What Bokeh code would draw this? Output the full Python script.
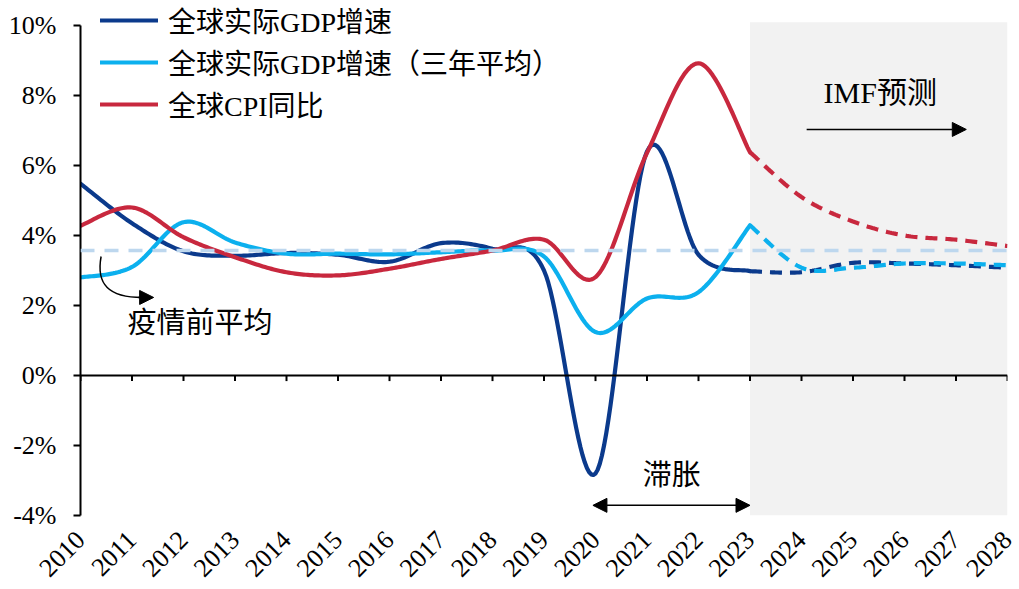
import math
from bokeh.plotting import figure
from bokeh.models import (Range1d, FixedTicker, PrintfTickFormatter, Span, BoxAnnotation,
                          Arrow, NormalHead, Legend, LegendItem)
from bokeh.core.properties import value
from bokeh.embed import file_html
from bokeh.resources import INLINE

# ---------------- data ----------------
years_hist = [2010, 2011, 2012, 2013, 2014, 2015, 2016, 2017, 2018, 2019, 2020, 2021, 2022, 2023]
years_fcst = [2023, 2024, 2025, 2026, 2027, 2028]
year_ticks = list(range(2010, 2029))

gdp_hist = [5.48, 4.35, 3.55, 3.42, 3.50, 3.45, 3.25, 3.78, 3.62, 3.00, -2.80, 6.40, 3.45, 2.98]
gdp_fcst = [2.98, 2.95, 3.22, 3.20, 3.15, 3.08]

gdp3_hist = [2.80, 3.10, 4.38, 3.80, 3.48, 3.48, 3.46, 3.52, 3.57, 3.40, 1.24, 2.20, 2.38, 4.29]
gdp3_fcst = [4.29, 3.08, 3.08, 3.20, 3.20, 3.15]

cpi_hist = [4.28, 4.80, 3.95, 3.38, 2.95, 2.86, 3.05, 3.33, 3.57, 3.88, 2.81, 6.36, 8.92, 6.38]
cpi_fcst = [6.38, 5.10, 4.40, 4.00, 3.88, 3.70]

pre_covid_avg = 3.57

names = ["全球实际GDP增速", "全球实际GDP增速（三年平均）", "全球CPI同比"]
y_ticks = [-4, -2, 0, 2, 4, 6, 8, 10]

# ---------------- style ----------------
C_DARK = "#0b3a8c"
C_LIGHT = "#0cb0ee"
C_RED = "#c8283e"
C_AVG = "#bdd7ee"
FONT = "'Liberation Serif', 'Noto Sans CJK SC'"


def smooth(xs, ys, n=24):
    """Excel-like smoothed line (cubic Bezier through each point)."""
    out_x, out_y = [], []
    m = len(xs)
    for i in range(m - 1):
        i0, i3 = max(i - 1, 0), min(i + 2, m - 1)
        p1 = (xs[i], ys[i]); p2 = (xs[i + 1], ys[i + 1])
        p0 = (xs[i0], ys[i0]); p3 = (xs[i3], ys[i3])
        c1 = (p1[0] + (p2[0] - p0[0]) / 6, p1[1] + (p2[1] - p0[1]) / 6)
        c2 = (p2[0] - (p3[0] - p1[0]) / 6, p2[1] - (p3[1] - p1[1]) / 6)
        for k in range(n + (1 if i == m - 2 else 0)):
            t = k / n
            a, b, c, d = (1 - t) ** 3, 3 * (1 - t) ** 2 * t, 3 * (1 - t) * t ** 2, t ** 3
            out_x.append(a * p1[0] + b * c1[0] + c * c2[0] + d * p2[0])
            out_y.append(a * p1[1] + b * c1[1] + c * c2[1] + d * p2[1])
    return out_x, out_y


p = figure(width=1019, height=589, output_backend="svg", toolbar_location=None,
           x_range=Range1d(2010, 2028), y_range=Range1d(-4, 10.714),
           min_border_left=80, min_border_right=12, min_border_top=0, min_border_bottom=74)
p.outline_line_color = None
p.xgrid.visible = False
p.ygrid.visible = False
p.background_fill_color = "white"
p.border_fill_color = "white"

# forecast shading
p.add_layout(BoxAnnotation(left=2023, bottom=-4, top=10.09, fill_color="#f2f2f2",
                           fill_alpha=1, line_color=None, level="underlay"))

# zero line with ticks
p.add_layout(Span(location=0, dimension="width", line_color="black", line_width=2))
p.segment(x0=year_ticks, y0=[0] * len(year_ticks), x1=year_ticks, y1=[-0.16] * len(year_ticks),
          line_color="black", line_width=2)

# series
renderers = []
for hist, fcst, col in [(gdp_hist, gdp_fcst, C_DARK), (gdp3_hist, gdp3_fcst, C_LIGHT), (cpi_hist, cpi_fcst, C_RED)]:
    hx, hy = smooth(years_hist, hist)
    r = p.line(hx, hy, line_color=col, line_width=4.2, line_cap="round", line_join="round")
    fx, fy = smooth(years_fcst, fcst)
    p.line(fx, fy, line_color=col, line_width=4.2, line_dash="12 8")
    renderers.append(r)

# pre-covid average
p.add_layout(Span(location=pre_covid_avg, dimension="width", line_color=C_AVG,
                  line_width=3.5, line_dash="14 10"))

# axes
yax = p.yaxis[0]
yax.ticker = FixedTicker(ticks=y_ticks)
yax.formatter = PrintfTickFormatter(format="%d%%")
yax.bounds = (-4, 10)
yax.axis_line_width = 2
yax.axis_line_color = "black"
yax.major_tick_line_width = 2
yax.major_tick_in = 0
yax.major_tick_out = 7
yax.minor_tick_line_color = None
yax.major_label_text_font = FONT
yax.major_label_text_font_size = "26px"
yax.major_label_text_color = "black"
yax.major_label_standoff = 17

xax = p.xaxis[0]
xax.ticker = FixedTicker(ticks=year_ticks)
xax.formatter = PrintfTickFormatter(format="%d")
xax.axis_line_color = None
xax.major_tick_line_color = None
xax.minor_tick_line_color = None
xax.major_label_orientation = math.pi / 4
xax.major_label_text_font = FONT
xax.major_label_text_font_size = "26px"
xax.major_label_text_color = "black"
xax.major_label_standoff = 14

# annotations
p.text(x=[2012.32], y=[1.50], text=["疫情前平均"], text_font=value(FONT), text_font_size="29px",
       text_align="center", text_baseline="middle", text_color="black")
p.bezier(x0=[2010.40], y0=[3.40], x1=[2011.20], y1=[2.23], cx0=[2010.30], cy0=[2.6],
         cx1=[2010.55], cy1=[2.23], line_color="black", line_width=1.5)
p.add_layout(Arrow(end=NormalHead(size=14, fill_color="black", line_color="black"),
                   x_start=2011.12, y_start=2.23, x_end=2011.42, y_end=2.23,
                   line_color="black", line_width=1.5))

p.text(x=[2021.48], y=[-2.83], text=["滞胀"], text_font=value(FONT), text_font_size="29px",
       text_align="center", text_baseline="middle", text_color="black")
p.add_layout(Arrow(start=NormalHead(size=14, fill_color="black", line_color="black"),
                   end=NormalHead(size=14, fill_color="black", line_color="black"),
                   x_start=2019.95, y_start=-3.71, x_end=2023.0, y_end=-3.71,
                   line_color="black", line_width=1.5))

p.text(x=[2025.53], y=[8.09], text=["IMF预测"], text_font=value(FONT), text_font_size="30px",
       text_align="center", text_baseline="middle", text_color="black")
p.add_layout(Arrow(end=NormalHead(size=14, fill_color="black", line_color="black"),
                   x_start=2024.1, y_start=7.03, x_end=2027.2, y_end=7.03,
                   line_color="black", line_width=1.5))

# legend
legend = Legend(items=[LegendItem(label=n, renderers=[r]) for n, r in zip(names, renderers)],
                location=(20, 391), border_line_color=None, background_fill_alpha=0,
                padding=0, margin=0, spacing=2, glyph_width=58, glyph_height=38,
                label_height=38, label_standoff=10, label_text_font=FONT,
                label_text_font_size="28px", label_text_color="black")
p.add_layout(legend)

open("out.html", "w").write(file_html(p, INLINE))
